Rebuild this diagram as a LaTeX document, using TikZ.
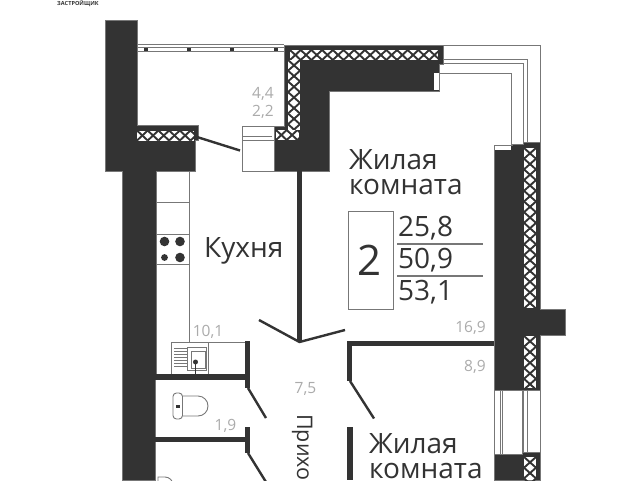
\documentclass[tikz,border=0pt]{standalone}
\usepackage{fontspec}
\setmainfont{Open Sans}
\definecolor{wallc}{HTML}{333333}
\definecolor{edgec}{HTML}{777777}
\definecolor{areac}{HTML}{ABABAB}
\tikzset{wall/.style={fill=wallc,draw=edgec,line width=0.7pt},
  partition/.style={fill=wallc,draw=none},
  doorleaf/.style={draw=wallc,line width=2.4pt},
  thin edge/.style={draw=edgec,line width=0.9pt},
  crossing/.style={draw=wallc,line width=1.9pt},
  roomlabel/.style={inner sep=0pt,anchor=base west,align=left,text=wallc,font=\fontsize{28}{25}\selectfont},
  arealabel/.style={inner sep=0pt,anchor=base west,text=wallc,font=\fontsize{28}{28}\selectfont},
  smalllabel/.style={inner sep=0pt,anchor=base,text=areac,font=\fontsize{15.5}{15.5}\selectfont}
}
\newcommand{\hatchhor}[3]{
  \begin{scope}
    \clip (#1,#3) rectangle (#2,#3+10);
    \fill[white] (#1,#3) rectangle (#2,#3+10);
    \foreach \i in {0,...,15} {
      \draw[crossing] ({#1+\i*10.7},#3) -- ++(10.7,10);
      \draw[crossing] ({#1+\i*10.7},#3+10) -- ++(10.7,-10);
    }
  \end{scope}
}
\newcommand{\hatchver}[3]{
  \begin{scope}
    \clip (#1,#2) rectangle (#1+12,#3);
    \fill[white] (#1,#2) rectangle (#1+12,#3);
    \foreach \i in {0,...,15} {
      \draw[crossing] (#1,{#2+\i*10.7}) -- ++(12,10.7);
      \draw[crossing] (#1+12,{#2+\i*10.7}) -- ++(-12,10.7);
    }
  \end{scope}
}
\begin{document}
\begin{tikzpicture}[x=1pt,y=-1pt]
  \clip (0,0) rectangle (638,480);
  \fill[white] (0,0) rectangle (638,480);

  % -- Balcony rail and the outer frame on the right.
  \draw[thin edge] (137,44.5) -- (284,44.5) (137,47.7) -- (284,47.7) (137,51) -- (284,51);
  \foreach \x in {145.5,189,232,276} {
    \fill[wallc] (\x-2,47.7) rectangle (\x+2,51);
  }
  \draw[thin edge] (443,45) -- (540,45) -- (540,142);
  \draw[thin edge] (443,59) -- (527,59) -- (527,142);
  \draw[thin edge] (443,63.5) -- (523,63.5) -- (523,142);
  \draw[thin edge] (438,73.5) -- (511.5,73.5) -- (511.5,146);

  % -- The outer walls.
  \draw[wall] (105,20) -- ++(32,0) -- (137,125.5) -- (198,125.5) -- (198,140) -- (195,140) -- (195,171) -- (156,171) -- (156,374) -- (155,374) -- (155,480) -- (122,480) -- (122,171) -- (105,171) -- cycle;
  \draw[wall] (284,45) -- (443,45) -- (443,64) -- (439,64) -- (439,91) -- (329,91) -- (329,171) -- (274,171) -- (274,140) -- (272,140) -- (272,126) -- (284,126) -- cycle;
  \draw[wall] (494,145) -- (512,145) -- (512,144) -- (523,144) -- (523,142) -- (540,142) -- (540,309) -- (565,309) -- (565,335) -- (540,335) -- (540,390) -- (494,390) -- cycle;
  \draw[wall] (494,454) -- (522,454) -- (522,452) -- (540,452) -- (540,480) -- (494,480) -- cycle;
  \fill[white] (494.5,145.5) rectangle (511,150);
  \fill[white] (434,73) rectangle (439,90);

  % -- Hatched cores of the walls.
  \hatchhor{137}{194}{130.5}
  \hatchhor{290}{438}{50}
  \hatchver{288}{60}{130}
  \hatchhor{276}{299}{130}
  \hatchver{524}{148}{308}
  \hatchver{524}{336}{388}
  \hatchver{524}{457}{480}

  % -- Window in the right wall.
  \draw[thin edge] (494,390) -- (494,454) (500,390) -- (500,454) (502,390) -- (502,454) (522,390) -- (522,454);
  \draw[thin edge] (523.5,390) -- (523.5,452) (527.5,390) -- (527.5,452) (540,390) -- (540,452);

  % -- Balcony door block and inner walls.
  \draw[thin edge,fill=white] (242,126) rectangle (274,171);
  \draw[thin edge] (242,136.5) -- (272,136.5) (242,140) -- (274,140);
  \draw[doorleaf] (197,137) -- (240,150.5);
  \fill[partition] (297,171) rectangle (302,342);
  \draw[doorleaf] (259,320) -- (299.5,342) -- (345,330);
  \fill[partition] (347,341) rectangle (494,346);
  \fill[partition] (347,341) rectangle (352,381);
  \draw[doorleaf] (350,381) -- (374,418.5);
  \fill[partition] (347,427) rectangle (353,480);
  \fill[partition] (155,374) rectangle (250,380);
  \fill[partition] (245,341) rectangle (250,388);
  \draw[doorleaf] (248,388) -- (266,418);
  \fill[partition] (155,437) rectangle (250,442);
  \fill[partition] (245,427) rectangle (250,453);
  \draw[doorleaf] (248,453) -- (266,482);

  % -- Kitchen counter, hob and sink.
  \draw[thin edge] (189,171) -- (189,342);
  \draw[thin edge] (156,202) -- (189,202) (156,234) -- (189,234) (156,264.5) -- (189,264.5);
  \fill[wallc] (164.5,241.5) circle (4.8) (180,241.5) circle (4.8) (164.5,257.5) circle (3.4) (180,257.5) circle (4.8);
  \draw[thin edge] (171.5,374) -- (171.5,342) -- (245,342);
  \draw[thin edge] (208,342) -- (208,374);
  \foreach \y in {348,351,354,357,360,363,366} {
    \draw[draw=edgec,line width=0.6pt] (174,\y) -- (187,\y);
  }
  \draw[thin edge] (187,347.5) rectangle (206,370);
  \draw[draw=edgec,line width=0.6pt] (191,351) rectangle (205,368);
  \fill[wallc] (195.5,362) circle (2.5);
  \draw[draw=wallc,line width=1.4pt] (195.5,362) -- (195.5,374);

  % -- Toilet and the basin below it.
  \draw[thin edge,rounded corners=3.5] (173,393) rectangle (182.5,419);
  \draw[thin edge] (182.5,396) -- (198,396) arc[start angle=-90,end angle=90,radius=10] -- (182.5,416);
  \fill[wallc] (176,404.5) rectangle (179.5,408);
  \draw[thin edge] (158,482) -- (158,477) -- (165,477) arc[start angle=-90,end angle=0,radius=8];

  % -- Room labels and areas.
  \node[roomlabel] (living) at (349,194) {Жилая\\комната};
  \node[roomlabel] (bedroom) at (369,478.5) {Жилая\\комната};
  \node[roomlabel] (kitchen) at (204,257) {Кухня};
  \node[roomlabel,rotate=-90,font=\fontsize{21.5}{21.5}\selectfont] (hall) at (297,414) {Прихо};
  \node[thin edge,draw,minimum width=45pt,minimum height=98pt,inner sep=0pt,anchor=north west] (roomcount) at (348,211) {};
  \node[inner sep=0pt,anchor=base,text=wallc,font=\fontsize{42}{42}\selectfont] (roomnum) at (370,275) {2};
  \node[arealabel] (livingfig) at (398,236) {25,8};
  \node[arealabel] (usablefig) at (398,268) {50,9};
  \node[arealabel] (totalfig) at (398,300) {53,1};
  \draw[draw=edgec,line width=1.6pt] (397,243.7) -- (483,243.7) (397,276) -- (483,276);
  \node[smalllabel] (balcony) at (263,98) {4,4};
  \node[smalllabel] (balconyb) at (263,116) {2,2};
  \node[smalllabel] (kitchenarea) at (208,336) {10,1};
  \node[smalllabel] (hallarea) at (305.5,393) {7,5};
  \node[smalllabel] (wcarea) at (225.5,430) {1,9};
  \node[smalllabel] (livingarea) at (470.5,332) {16,9};
  \node[smalllabel] (bedroomarea) at (475,371) {8,9};
  \node[inner sep=0pt,anchor=base west,text=wallc,font=\fontsize{5.6}{6}\selectfont\bfseries] (brand) at (57,5) {ЗАСТРОЙЩИК};
\end{tikzpicture}
\end{document}
